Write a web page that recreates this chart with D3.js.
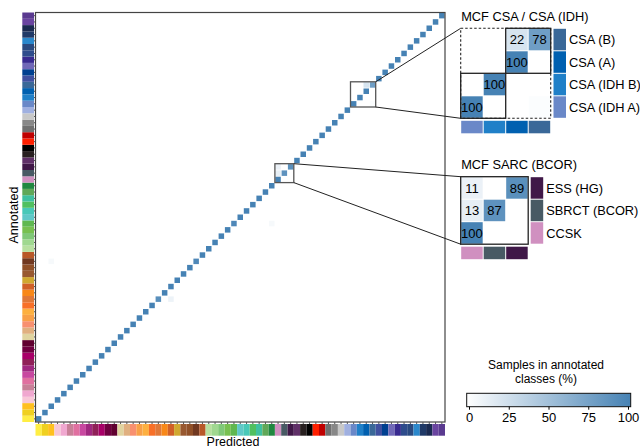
<!DOCTYPE html>
<html><head><meta charset="utf-8">
<script src="https://cdn.jsdelivr.net/npm/d3@7"></script>
<style>body{margin:0;background:#fff}svg{display:block;font-family:"Liberation Sans",Arial,sans-serif}</style>
</head><body><svg id="c" width="640" height="447"></svg>
<script>
// class colours, index 0 = bottom row / left column
const classColors = ["#FFEE44","#F0D020","#FFC020","#F8C8D8","#F0A8D0","#C88098","#E070A0","#C848A0","#A02880","#902058",
"#A80068","#700040","#600030","#E0D4A0","#E0B080","#F89070","#F8A048","#FDB040","#F87028","#E07838",
"#F88818","#D06028","#D0A830","#985830","#905028","#703820","#B85828","#B8E0A0","#A0D890","#80C878",
"#78C050","#60B850","#60C8C8","#48C8B8","#50C060","#40C0A0","#60A858","#208840","#D090C0","#485A64",
"#401848","#603068","#282020","#000000","#FF2000","#C00000","#707070","#888888","#C8C8C8","#A0B0E0",
"#6A88C8","#2080C8","#0060B0","#3A6898","#4050A0","#004090","#7068B8","#382A90","#2E4C8C","#2A4A80",
"#2A88CC","#203A68","#1A2A50","#6A44A0","#5A3A90"];
const nClass = classColors.length;
const diagValues = classColors.map((c,i)=>100);
const diagExceptIdx = [19,25,31,39,40,53];
const diagExceptVal = [90,95,95,87,89,78];
const offRows = [19,25,31,39,40,53,50];
const offCols = [21,2,37,38,38,52,53];
const offVals = [10,5,5,13,11,22,2];
const csaIdx = [50,51,52,53];
const csaLabels = ["CSA (IDH A)","CSA (IDH B)","CSA (A)","CSA (B)"];
const sarcIdx = [38,39,40];
const sarcLabels = ["CCSK","SBRCT (BCOR)","ESS (HG)"];
const legendTicks = [0,25,50,75,100];

diagExceptIdx.forEach((k,j)=>diagValues[k]=diagExceptVal[j]);
const cells = diagValues.map((v,i)=>({r:i,c:i,v}));
offRows.forEach((r,j)=>cells.push({r,c:offCols[j],v:offVals[j]}));
const valueAt=(r,c)=>{const f=cells.find(d=>d.r===r&&d.c===c);return f?f.v:0;};

const svg = d3.select("#c");
const color = d3.scaleLinear().domain([0,100]).range(["#ffffff","#4682b4"]);
const x = d3.scaleBand().domain(d3.range(nClass)).range([35.5,445]);
const y = d3.scaleBand().domain(d3.range(nClass)).range([422,12.5]);
const bw = x.bandwidth();

// cells
svg.append("g").selectAll("rect").data(cells).join("rect")
  .attr("x",d=>x(d.c)+0.4).attr("y",d=>y(d.r)+0.4)
  .attr("width",bw-0.8).attr("height",bw-0.8).attr("fill",d=>color(d.v));

// frame
svg.append("rect").attr("x",35.5).attr("y",12.5).attr("width",409.5).attr("height",409.5)
  .attr("fill","none").attr("stroke","#444").attr("stroke-width",1.2);
svg.append("g").attr("transform","translate(35.5,0)").call(d3.axisLeft(y).tickSize(2).tickFormat(""))
  .call(g=>g.select(".domain").remove()).selectAll("line").attr("stroke","#555");
svg.append("g").attr("transform","translate(0,422)").call(d3.axisBottom(x).tickSize(2).tickFormat(""))
  .call(g=>g.select(".domain").remove()).selectAll("line").attr("stroke","#555");

// annotation strips
svg.append("g").selectAll("rect").data(classColors).join("rect")
  .attr("x",22.3).attr("y",(d,i)=>y(i)).attr("width",11.7).attr("height",bw).attr("fill",d=>d);
svg.append("g").selectAll("rect").data(classColors).join("rect")
  .attr("x",(d,i)=>x(i)).attr("y",424).attr("width",bw).attr("height",11.7).attr("fill",d=>d);

svg.append("text").attr("transform","translate(17.5,215) rotate(-90)").attr("text-anchor","middle")
  .attr("font-size",12.5).text("Annotated");
svg.append("text").attr("x",233).attr("y",445.5).attr("text-anchor","middle").attr("font-size",12.5).text("Predicted");

// insets
function inset(idx, labels, title, x0, y0, cs, titleY, swX){
  const n = idx.length;
  const ix = d3.scaleBand().domain(idx).range([x0,x0+n*cs]);
  const iy = d3.scaleBand().domain(idx).range([y0+n*cs,y0]);
  const g = svg.append("g");
  const data=[];
  idx.forEach(r=>idx.forEach(c=>{const v=valueAt(r,c); if(v>0) data.push({r,c,v});}));
  g.selectAll("rect.cell").data(data).join("rect").attr("class","cell")
    .attr("x",d=>ix(d.c)+0.5).attr("y",d=>iy(d.r)+0.5).attr("width",cs-1).attr("height",cs-1)
    .attr("fill",d=>color(d.v));
  g.selectAll("text.v").data(data.filter(d=>d.v>=5)).join("text").attr("class","v")
    .attr("x",d=>ix(d.c)+cs/2).attr("y",d=>iy(d.r)+cs/2).attr("dy","0.36em")
    .attr("text-anchor","middle").attr("font-size",13).text(d=>d.v);
  g.selectAll("rect.sw").data(idx).join("rect").attr("class","sw")
    .attr("x",swX).attr("y",d=>iy(d)+0.5).attr("width",12.5).attr("height",cs-1).attr("fill",d=>classColors[d]);
  g.selectAll("text.lab").data(idx).join("text").attr("class","lab")
    .attr("x",swX+15.5).attr("y",d=>iy(d)+cs/2).attr("dy","0.36em").attr("font-size",12.8)
    .text((d,i)=>labels[i]);
  g.selectAll("rect.bs").data(idx).join("rect").attr("class","bs")
    .attr("x",d=>ix(d)+0.5).attr("y",y0+n*cs+2.5).attr("width",cs-1).attr("height",12.5).attr("fill",d=>classColors[d]);
  g.append("text").attr("x",x0+0.5).attr("y",titleY).attr("font-size",12.8).text(title);
  const bx0 = x(idx[0]), bx1 = x(idx[n-1])+bw, by0 = y(idx[n-1]), by1 = y(idx[0])+bw;
  svg.append("rect").attr("x",bx0).attr("y",by0).attr("width",bx1-bx0).attr("height",by1-by0)
    .attr("fill","none").attr("stroke","#555").attr("stroke-width",1.3);
  svg.append("line").attr("x1",bx1).attr("y1",by0).attr("x2",x0).attr("y2",y0).attr("stroke","#222").attr("stroke-width",1);
  svg.append("line").attr("x1",bx1).attr("y1",by1).attr("x2",x0).attr("y2",y0+n*cs).attr("stroke","#222").attr("stroke-width",1);
  return {g, ix, iy};
}

const csa = inset(csaIdx, csaLabels, "MCF CSA / CSA (IDH)", 460.7, 28.3, 22.5, 21, 553.5);
csa.g.append("rect").attr("x",460.7).attr("y",28.3).attr("width",90).attr("height",90)
  .attr("fill","none").attr("stroke","#222").attr("stroke-width",1.1).attr("stroke-dasharray","2.5,2");
csa.g.append("rect").attr("x",460.7).attr("y",73.3).attr("width",45).attr("height",45)
  .attr("fill","none").attr("stroke","#222").attr("stroke-width",1.3);
csa.g.append("rect").attr("x",505.7).attr("y",28.3).attr("width",45).attr("height",45)
  .attr("fill","none").attr("stroke","#222").attr("stroke-width",1.3);

const sarc = inset(sarcIdx, sarcLabels, "MCF SARC (BCOR)", 460.7, 176.7, 22.5, 169, 530.7);
sarc.g.append("rect").attr("x",460.7).attr("y",176.7).attr("width",67.5).attr("height",67.5)
  .attr("fill","none").attr("stroke","#222").attr("stroke-width",1.3);

// legend
const grad = svg.append("defs").append("linearGradient").attr("id","lg");
grad.append("stop").attr("offset","0%").attr("stop-color",color(0));
grad.append("stop").attr("offset","100%").attr("stop-color",color(100));
svg.append("rect").attr("x",466.7).attr("y",393.3).attr("width",164).attr("height",13.4)
  .attr("fill","url(#lg)").attr("stroke","#111").attr("stroke-width",1);
const lx = d3.scaleLinear().domain([0,100]).range([469,628]);
svg.append("g").attr("transform","translate(0,406.7)")
  .call(d3.axisBottom(lx).tickValues(legendTicks).tickSize(3).tickPadding(3))
  .call(g=>g.select(".domain").remove())
  .call(g=>g.attr("font-size",13).attr("font-family","Liberation Sans, Arial"))
  .call(g=>g.selectAll("text").attr("fill","#000"))
  .call(g=>g.selectAll("line").attr("stroke","#000"));
svg.append("text").attr("x",546).attr("y",369).attr("text-anchor","middle").attr("font-size",12).text("Samples in annotated");
svg.append("text").attr("x",546).attr("y",382.5).attr("text-anchor","middle").attr("font-size",12).text("classes (%)");
</script></body></html>
